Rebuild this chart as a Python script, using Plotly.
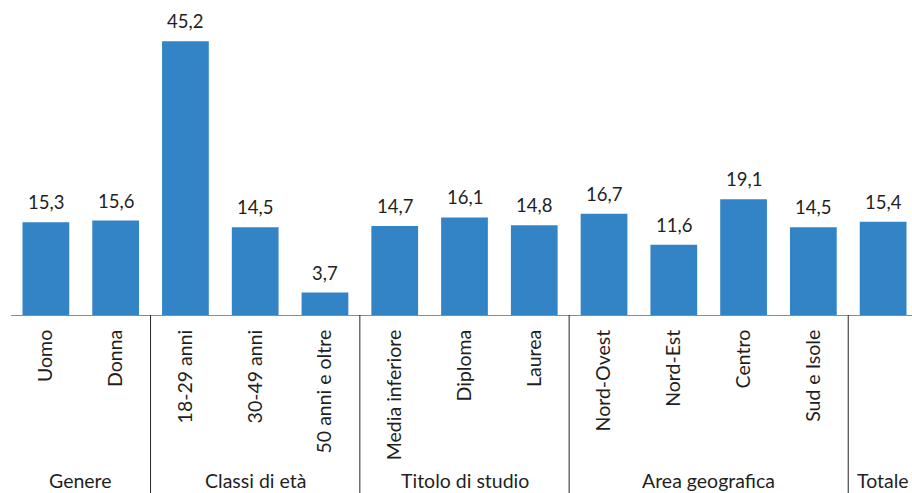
import plotly.graph_objects as go

# Categories, their group, and the percentage for each bar
categories = ["Uomo", "Donna", "18-29 anni", "30-49 anni", "50 anni e oltre",
              "Media inferiore", "Diploma", "Laurea",
              "Nord-Ovest", "Nord-Est", "Centro", "Sud e Isole", "Totale"]
groups = ["Genere", "Genere", "Classi di età", "Classi di età", "Classi di età",
          "Titolo di studio", "Titolo di studio", "Titolo di studio",
          "Area geografica", "Area geografica", "Area geografica", "Area geografica",
          "Totale"]
values = [15.3, 15.6, 45.2, 14.5, 3.7, 14.7, 16.1, 14.8, 16.7, 11.6, 19.1, 14.5, 15.4]
tick_labels = categories[:-1] + [""]

W, H = 912, 493
ML, MR, MT, MB = 11, 0, 0, 178
X_RANGE = [-0.5, 12.414]
Y_RANGE = [0, 52.0]

FONT = "Lato"
TEXT = "#1f1f1f"
BLUE = "#3284c6"
LABEL_SIZE = 19.5
VALUE_SIZE = 18.5

x = list(range(len(categories)))

fig = go.Figure(go.Bar(
    x=x, y=values, marker=dict(color=BLUE, line=dict(width=0)),
    width=0.67, hoverinfo="skip",
))

def to_paper_x(v):
    return (v - X_RANGE[0]) / (X_RANGE[1] - X_RANGE[0])

plot_h = H - MT - MB
shapes = []
annotations = []

# value labels above each bar
for i, v in zip(x, values):
    annotations.append(dict(
        x=i, y=v, xref="x", yref="y", text=f"{v:.1f}".replace(".", ","),
        showarrow=False, yanchor="middle", yshift=20,
        font=dict(family=FONT, size=VALUE_SIZE, color=TEXT),
    ))

# group separators and group titles
order = []
for g in groups:
    if g not in order:
        order.append(g)
for gi, g in enumerate(order):
    idx = [i for i, gg in enumerate(groups) if gg == g]
    center = sum(idx) / len(idx)
    annotations.append(dict(
        x=center, y=-166 / plot_h,
        xref="x", yref="paper", text=g, showarrow=False,
        yanchor="middle", xanchor="center",
        font=dict(family=FONT, size=LABEL_SIZE, color=TEXT),
    ))
    if gi > 0:
        bx = to_paper_x(idx[0] - 0.5)
        shapes.append(dict(
            type="line", xref="paper", yref="paper",
            x0=bx, x1=bx, y0=0, y1=-MB / plot_h,
            line=dict(color="#262626", width=1),
        ))

fig.update_layout(
    width=W, height=H,
    margin=dict(l=ML, r=MR, t=MT, b=MB, pad=0),
    paper_bgcolor="white", plot_bgcolor="white",
    showlegend=False,
    font=dict(family=FONT, size=LABEL_SIZE, color=TEXT),
    shapes=shapes, annotations=annotations,
    xaxis=dict(
        range=X_RANGE, tickmode="array", tickvals=x, ticktext=tick_labels,
        tickangle=-90, showgrid=False, zeroline=False,
        showline=True, linecolor="#8c8c8c", linewidth=1,
        ticks="outside", ticklen=6, tickcolor="rgba(0,0,0,0)",
        tickfont=dict(family=FONT, size=LABEL_SIZE, color=TEXT),
        fixedrange=True,
    ),
    yaxis=dict(range=Y_RANGE, visible=False, fixedrange=True),
)

fig.write_html("out.html", config={"displayModeBar": False})
